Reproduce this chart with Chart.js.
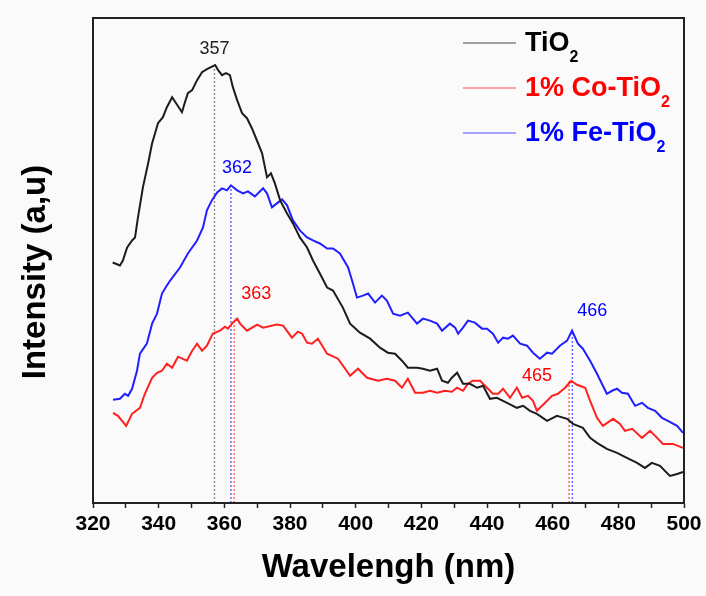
<!DOCTYPE html>
<html>
<head>
<meta charset="utf-8">
<script src="https://cdn.jsdelivr.net/npm/chart.js@4/dist/chart.umd.min.js"></script>
<style>
  html, body { margin: 0; padding: 0; background: #fafafa; }
  #wrap { width: 706px; height: 596px; }
</style>
</head>
<body>
<div id="wrap"><canvas id="pl"></canvas></div>
<script>
// spectra (intensity in arbitrary units)
var tiNm = [326.0,328.2,329.1,330.4,331.9,332.8,333.7,335.2,336.8,338.0,338.9,339.8,341.3,342.5,344.1,345.3,347.1,348.0,348.9,350.2,351.7,353.2,354.7,357.2,358.1,359.3,360.5,361.7,362.6,363.9,365.4,366.9,368.4,369.9,371.5,373.0,374.2,375.4,377.0,379.1,380.9,383.0,385.2,387.0,389.1,391.3,393.1,396.1,398.3,401.3,404.4,407.4,409.8,412.0,414.1,415.9,418.7,420.5,422.6,424.8,426.3,428.1,429.3,430.9,432.7,434.8,437.0,438.8,440.9,443.0,446.1,449.1,451.0,453.1,455.2,458.3,461.3,464.4,466.2,469.2,471.4,473.5,476.5,479.6,482.6,485.7,488.1,490.2,492.7,495.7,497.9,499.7];
var tiInt = [240,237,242,255,262,265,285,315,339,359,369,379,385,395,405,399,390,400,409,412,422,430,433,437,432,427,429,427,415,402,389,384,374,362,349,325,329,319,302,289,279,265,255,242,229,215,212,195,179,170,164,155,150,149,142,135,135,134,132,134,122,120,125,130,119,119,115,117,104,105,100,95,97,92,89,82,87,84,79,75,65,60,54,50,45,40,35,40,37,27,29,31];

var coNm = [326.1,327.6,330.1,331.9,334.3,335.8,338.0,339.5,341.0,342.5,344.1,345.9,348.6,350.2,351.7,353.2,354.7,356.5,358.7,360.2,361.1,362.6,363.9,364.8,366.9,370.0,371.8,376.0,377.9,380.6,382.4,383.7,385.2,386.7,388.5,391.3,394.6,396.8,398.3,400.7,403.5,406.8,409.5,412.0,414.1,415.9,418.1,420.5,422.6,424.8,427.2,429.3,430.9,432.7,434.2,435.7,437.9,440.0,441.8,443.4,444.9,447.0,449.1,450.7,452.5,454.0,455.2,457.7,459.8,461.6,463.8,465.6,467.4,469.9,471.4,473.5,475.3,478.4,480.5,482.0,484.2,487.2,489.7,491.8,493.6,496.6,499.7];
var coInt = [90,87,77,89,95,109,125,130,132,139,135,146,142,152,159,152,157,169,172,176,174,180,184,179,172,178,175,178,177,165,171,169,160,159,164,149,144,134,127,134,125,122,124,122,115,124,110,110,112,110,112,111,115,112,119,122,122,115,109,109,114,105,115,105,107,102,92,100,107,109,115,122,118,115,102,85,77,84,79,72,74,65,72,65,59,59,55];

var feNm = [326.1,328.2,329.7,330.7,331.9,333.4,334.3,336.4,338.0,339.5,341.0,342.5,343.5,346.5,348.9,351.7,353.5,354.7,356.2,357.8,359.3,360.8,362.0,363.9,365.7,367.2,369.3,371.8,373.0,374.5,376.0,377.6,379.1,380.9,383.0,385.2,387.0,389.1,391.3,393.1,395.2,397.7,398.9,400.4,402.2,403.8,405.9,408.0,409.5,411.4,413.5,415.9,418.7,420.5,422.6,424.8,426.3,428.7,430.3,431.2,432.7,434.2,436.3,438.5,440.0,441.8,443.4,444.9,446.4,447.9,450.1,452.2,454.0,456.1,458.3,459.8,462.2,464.4,465.9,467.7,469.2,471.4,473.5,475.0,476.5,478.1,479.6,481.1,482.9,485.1,487.2,489.0,491.2,493.3,495.1,497.9,499.7];
var feInt = [103,104,109,107,114,132,149,159,179,189,209,217,222,235,249,262,275,292,302,310,314,312,317,312,309,311,306,314,309,295,299,303,297,282,272,265,262,259,254,254,249,235,222,205,207,209,200,207,202,189,187,190,179,184,182,179,172,179,175,169,175,182,180,174,174,169,160,165,164,167,159,157,150,144,150,149,157,162,172,159,154,142,129,119,109,112,114,110,109,97,100,95,92,85,82,77,70];

// peak markers: wavelength, top of the dotted line, which series
var peakNm = [357, 362, 363, 465, 466];
var peakTop = [434, 315, 184, 122, 172];
var peakSeries = [0, 2, 1, 1, 2];

var seriesNames = ['TiO', '1% Co-TiO', '1% Fe-TiO'];
var lineColors = ['#1c1c1c', '#ff2020', '#2020ff'];
var textColors = ['#000000', '#ff0000', '#0000ff'];
var dropColors = ['#8a8a8a', '#ff6060', '#6060ff'];

function pts(xs, ys) {
    var out = [];
    for (let i = 0; i < xs.length; i++) out.push({x: xs[i], y: ys[i]});
    return out;
}

var datasets = [
    {label: seriesNames[0], data: pts(tiNm, tiInt), borderColor: lineColors[0], borderWidth: 2, pointRadius: 0, tension: 0},
    {label: seriesNames[1], data: pts(coNm, coInt), borderColor: lineColors[1], borderWidth: 2, pointRadius: 0, tension: 0},
    {label: seriesNames[2], data: pts(feNm, feInt), borderColor: lineColors[2], borderWidth: 2, pointRadius: 0, tension: 0}
];
for (let i = 0; i < peakNm.length; i++) {
    datasets.push({
        label: 'peak' + peakNm[i],
        data: [{x: peakNm[i], y: 0}, {x: peakNm[i], y: peakTop[i]}],
        borderColor: dropColors[peakSeries[i]],
        borderWidth: 1.4,
        borderDash: [2, 2],
        pointRadius: 0
    });
}

// pixel nudges of the peak numbers relative to their dotted line top
var labelShift = [[0, -14], [6, -14], [22, -20], [-32, 0], [20, -15]];

var decor = {
    id: 'decor',
    afterDraw: function(chart) {
        let ctx = chart.ctx;
        let a = chart.chartArea;
        let xs = chart.scales.x, ys = chart.scales.y;
        ctx.save();

        // frame
        ctx.strokeStyle = '#222';
        ctx.lineWidth = 2;
        ctx.strokeRect(a.left, a.top, a.right - a.left, a.bottom - a.top);

        // peak numbers
        ctx.font = '18px "Liberation Sans", Arial, sans-serif';
        ctx.textAlign = 'center';
        ctx.textBaseline = 'alphabetic';
        for (let i = 0; i < peakNm.length; i++) {
            ctx.fillStyle = i == 0 ? '#222' : textColors[peakSeries[i]];
            let px = xs.getPixelForValue(peakNm[i]) + labelShift[i][0];
            let py = ys.getPixelForValue(peakTop[i]) + labelShift[i][1];
            ctx.fillText(String(peakNm[i]), px, py);
        }

        // legend with subscript 2
        let rows = [43, 88, 133];
        for (let i = 0; i < 3; i++) {
            ctx.strokeStyle = lineColors[i];
            ctx.globalAlpha = 0.8;
            ctx.lineWidth = 1.2;
            ctx.beginPath();
            ctx.moveTo(463, rows[i]);
            ctx.lineTo(516, rows[i]);
            ctx.stroke();
            ctx.globalAlpha = 1;
            ctx.fillStyle = textColors[i];
            ctx.textAlign = 'left';
            ctx.font = 'bold 27px "Liberation Sans", Arial, sans-serif';
            ctx.fillText(seriesNames[i], 525, rows[i] + 8);
            let w = ctx.measureText(seriesNames[i]).width;
            ctx.font = 'bold 16px "Liberation Sans", Arial, sans-serif';
            ctx.fillText('2', 525 + w, rows[i] + 19);
        }

        // axis titles
        ctx.fillStyle = '#000';
        ctx.textAlign = 'center';
        ctx.textBaseline = 'middle';
        ctx.font = 'bold 33px "Liberation Sans", Arial, sans-serif';
        ctx.fillText('Wavelengh (nm)', (a.left + a.right) / 2, 568);
        ctx.translate(36, 272);
        ctx.rotate(-Math.PI / 2);
        ctx.font = 'bold 33px "Liberation Sans", Arial, sans-serif';
        ctx.fillText('Intensity (a,u)', 0, 0);
        ctx.restore();
    }
};

var ctx = document.getElementById('pl').getContext('2d');
var chart = new Chart(ctx, {
    type: 'line',
    data: {datasets: datasets},
    options: {
        responsive: true,
        maintainAspectRatio: false,
        animation: false,
        layout: {padding: {left: 0, right: 22, top: 18, bottom: 0}},
        plugins: {legend: {display: false}, tooltip: {enabled: false}},
        scales: {
            x: {
                type: 'linear',
                min: 320,
                max: 500,
                afterFit: function(s) { s.height = 93; },
                border: {color: '#222', width: 2},
                grid: {drawOnChartArea: false, drawTicks: true, tickLength: 5, color: '#222', tickWidth: 1.5},
                ticks: {
                    stepSize: 10,
                    autoSkip: false,
                    maxRotation: 0,
                    padding: 4,
                    color: '#000',
                    font: {family: '"Liberation Sans", Arial, sans-serif', size: 21, weight: 'bold'},
                    callback: function(v) { return v % 20 == 0 ? v : ''; }
                }
            },
            y: {
                min: 0,
                max: 484,
                afterFit: function(s) { s.width = 93; },
                border: {color: '#222', width: 2},
                grid: {display: false},
                ticks: {display: false}
            }
        }
    },
    plugins: [decor]
});
</script>
</body>
</html>
